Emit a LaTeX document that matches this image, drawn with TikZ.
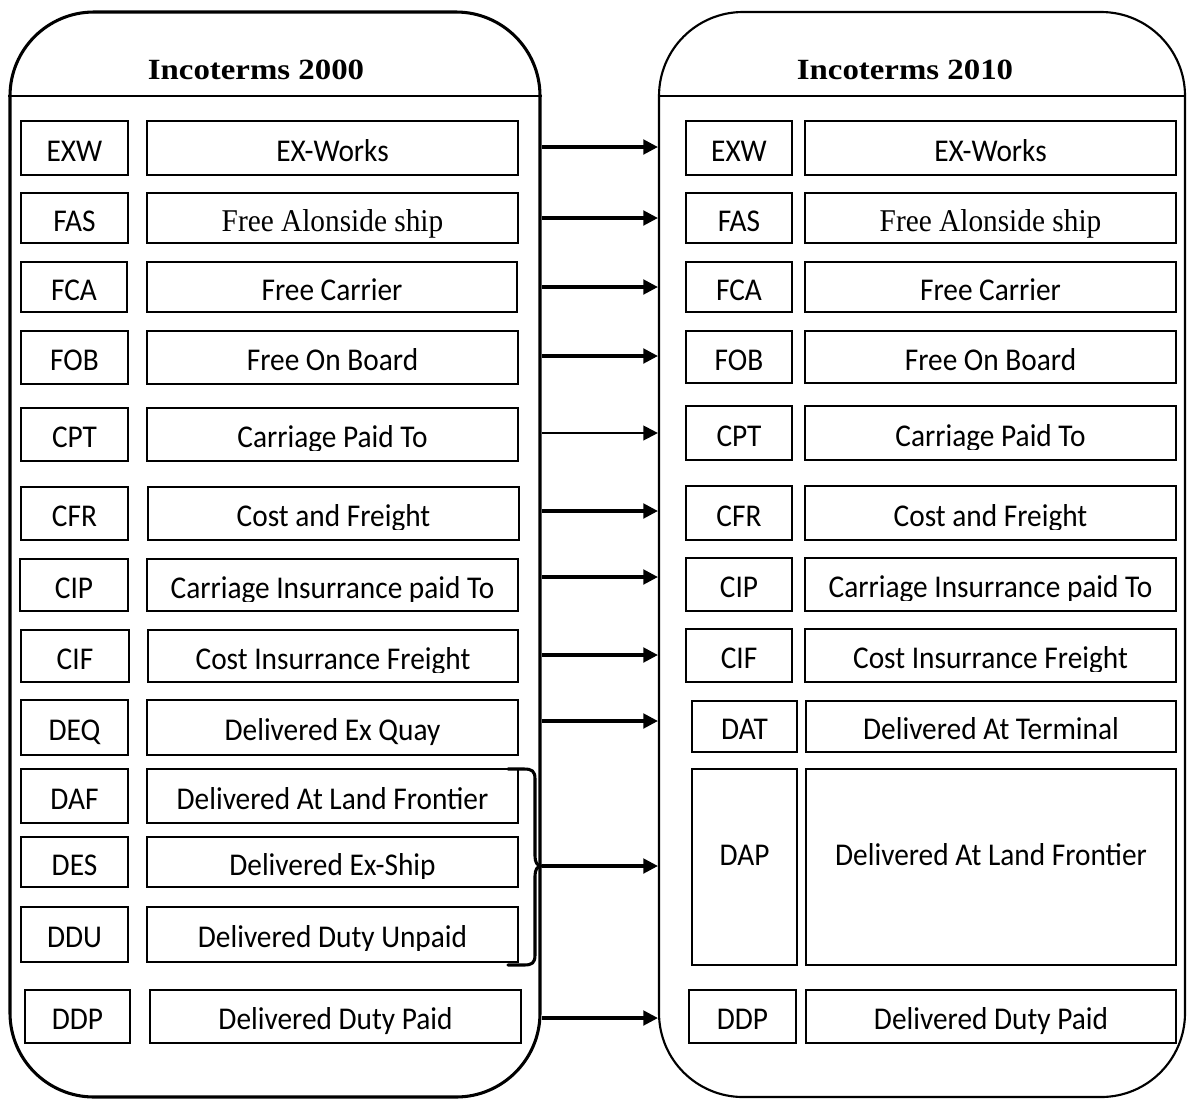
\documentclass[tikz,border=0pt]{standalone}
\usepackage{fontspec}
\usetikzlibrary{fit,arrows.meta}
\newfontfamily\calib{Carlito}
\newfontfamily\tnr{Liberation Serif}

\tikzset{
  panelL/.style={draw, line width=2.3pt, rounded corners=63pt, inner sep=0pt},
  panelR/.style={draw, line width=1.6pt, rounded corners=63pt, inner sep=0pt},
  divider/.style={line width=2.2pt},
  cellbox/.style={draw, line width=1.6pt, inner sep=0pt},
  celltext/.style={anchor=base, inner sep=0pt, font=\calib\fontsize{22}{26}\selectfont},
  serif/.style={font=\tnr\fontsize{22}{26}\selectfont},
  headtext/.style={anchor=base, inner sep=0pt, font=\tnr\bfseries\fontsize{22}{26}\selectfont},
  link/.style={line width=2.3pt, -{Triangle[length=11pt,width=11pt]}},
  bracket/.style={line width=2.3pt, line cap=round, line join=round},
}

% slightly tall lettering
\newcommand\tall[1]{\scalebox{1}[1.08]{#1}}

% one table cell: name, x1, x2, y1, y2, extra text style, text
\newcommand\cell[7]{%
  \node[cellbox, fit={(#2,#4) (#3,#5)}] (#1) {};
  \node[celltext, #6] (#1-t) at ([yshift=-10pt]#1.center) {\tall{#7}};}

% the same, with the lettering cut just under its baseline
\newcommand\cutcell[7]{%
  \node[cellbox, fit={(#2,#4) (#3,#5)}] (#1) {};
  \begin{scope}
    \clip (#1.north west) rectangle ([yshift=-12pt]#1.center -| #1.east);
    \node[celltext, #6] (#1-t) at ([yshift=-10pt]#1.center) {\tall{#7}};
  \end{scope}}

\begin{document}
\begin{tikzpicture}[x=0.75pt, y=-0.75pt]
\useasboundingbox (0,0) rectangle (1187,1100);

% the two panels
\node[panelL, fit={(10,12) (540,1097)}] (Lpanel) {};
\node[panelR, fit={(659,12) (1185,1097)}] (Rpanel) {};
\draw[divider] (Lpanel.west |- 0,96) -- (Lpanel.east |- 0,96);
\draw[divider] (Rpanel.west |- 0,96) -- (Rpanel.east |- 0,96);

\node[headtext] (headL) at (256,79) {\scalebox{1.12}[1]{Incoterms 2000}};
\node[headtext] (headR) at (905,79) {\scalebox{1.12}[1]{Incoterms 2010}};

% Incoterms 2000
\cell{lexw}{21}{128}{121}{175}{}{EXW}
\cell{lexwD}{147}{518}{121}{175}{}{EX-Works}
\cell{lfas}{21}{128}{193}{243}{}{FAS}
\cell{lfasD}{147}{518}{193}{243}{serif}{Free Alonside ship}
\cell{lfca}{21}{127}{262}{312}{}{FCA}
\cell{lfcaD}{147}{517}{262}{312}{}{Free Carrier}
\cell{lfob}{21}{128}{331}{384}{}{FOB}
\cell{lfobD}{147}{518}{331}{384}{}{Free On Board}
\cell{lcpt}{21}{128}{408}{461}{}{CPT}
\cutcell{lcptD}{147}{518}{408}{461}{}{Carriage Paid To}
\cell{lcfr}{21}{128}{487}{540}{}{CFR}
\cutcell{lcfrD}{148}{519}{487}{540}{}{Cost and Freight}
\cell{lcip}{20}{128}{559}{611}{}{CIP}
\cutcell{lcipD}{147}{518}{559}{611}{}{Carriage Insurrance paid To}
\cell{lcif}{21}{129}{630}{682}{}{CIF}
\cutcell{lcifD}{148}{518}{630}{682}{}{Cost Insurrance Freight}
\cell{ldeq}{21}{128}{700}{755}{}{DEQ}
\cell{ldeqD}{147}{518}{700}{755}{}{Delivered Ex Quay}
\cell{ldaf}{21}{128}{769}{823}{}{DAF}
\cell{ldafD}{147}{518}{769}{823}{}{Delivered At Land Frontier}
\cell{ldes}{21}{128}{837}{887}{}{DES}
\cutcell{ldesD}{147}{518}{837}{887}{}{Delivered Ex-Ship}
\cell{lddu}{21}{128}{907}{962}{}{DDU}
\cutcell{ldduD}{147}{518}{907}{962}{}{Delivered Duty Unpaid}
\cell{lddp}{25}{130}{990}{1043}{}{DDP}
\cell{lddpD}{150}{521}{990}{1043}{}{Delivered Duty Paid}

% Incoterms 2010
\cell{rexw}{686}{792}{121}{175}{}{EXW}
\cell{rexwD}{805}{1176}{121}{175}{}{EX-Works}
\cell{rfas}{686}{792}{193}{243}{}{FAS}
\cell{rfasD}{805}{1176}{193}{243}{serif}{Free Alonside ship}
\cell{rfca}{686}{792}{262}{312}{}{FCA}
\cell{rfcaD}{805}{1176}{262}{312}{}{Free Carrier}
\cell{rfob}{686}{792}{331}{383}{}{FOB}
\cell{rfobD}{805}{1176}{331}{383}{}{Free On Board}
\cell{rcpt}{686}{792}{406}{460}{}{CPT}
\cutcell{rcptD}{805}{1176}{406}{460}{}{Carriage Paid To}
\cell{rcfr}{686}{792}{486}{540}{}{CFR}
\cutcell{rcfrD}{805}{1176}{486}{540}{}{Cost and Freight}
\cell{rcip}{686}{792}{558}{611}{}{CIP}
\cutcell{rcipD}{805}{1176}{558}{611}{}{Carriage Insurrance paid To}
\cell{rcif}{686}{792}{629}{682}{}{CIF}
\cutcell{rcifD}{805}{1176}{629}{682}{}{Cost Insurrance Freight}
\cell{rdat}{692}{797}{701}{752}{}{DAT}
\cell{rdatD}{806}{1176}{701}{752}{}{Delivered At Terminal}
\cell{rdap}{692}{797}{769}{965}{yshift=11pt}{DAP}
\cell{rdapD}{806}{1176}{769}{965}{yshift=11pt}{Delivered At Land Frontier}
\cell{rddp}{689}{796}{990}{1043}{}{DDP}
\cell{rddpD}{806}{1176}{990}{1043}{}{Delivered Duty Paid}

% heights of the connectors
\foreach \n/\y in {exw/147, fas/218, fca/287, fob/356, cpt/433, cfr/511,
                   cip/577, cif/655, deq/721, dap/866, ddp/1018}
  \coordinate (y-\n) at (0,\y);

% brace grouping DAF, DES and DDU
\draw[bracket] (508,769) -- (524,769)
  .. controls (532,769) and (535,771) .. (535,779) -- (535,856)
  .. controls (535,862) and (537,866) .. (Lpanel.east |- y-dap)
  .. controls (537,866) and (535,870) .. (535,876) -- (535,955)
  .. controls (535,963) and (532,965) .. (524,965) -- (508,965);

% connectors between the panels
\foreach \n in {exw, fas, fca, fob, cfr, cip, cif, deq, dap, ddp}
  \draw[link] (Lpanel.east |- y-\n) -- (Rpanel.west |- y-\n);
\draw[link, line width=1.6pt] (Lpanel.east |- y-cpt) -- (Rpanel.west |- y-cpt);
\end{tikzpicture}
\end{document}
